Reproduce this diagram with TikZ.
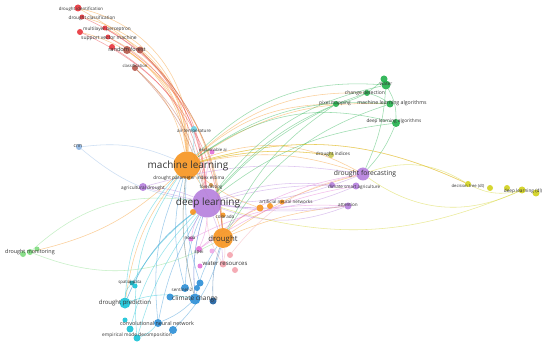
\documentclass[tikz,border=0pt]{standalone}
\usepackage{fontspec}
\setmainfont{Open Sans}
\usepackage{xcolor}
\usetikzlibrary{backgrounds}
\definecolor{redc}{HTML}{E8333A}
\definecolor{brownc}{HTML}{B5574B}
\definecolor{orangec}{HTML}{F7941E}
\definecolor{purplec}{HTML}{B57FDD}
\definecolor{greenc}{HTML}{22B14C}
\definecolor{yellowc}{HTML}{D2D21C}
\definecolor{cyanc}{HTML}{17C3D6}
\definecolor{bluec}{HTML}{2C8FD6}
\definecolor{dbluec}{HTML}{1C5E9E}
\definecolor{pinkc}{HTML}{E46FD6}
\definecolor{salmonc}{HTML}{F4A3AE}
\definecolor{aquac}{HTML}{6AD4E8}
\definecolor{lbluec}{HTML}{8EB6E4}
\definecolor{lgreenc}{HTML}{7EDC7E}
\definecolor{olivec}{HTML}{C8C850}

\begin{document}
\begin{tikzpicture}[x=1pt,y=-1pt,
  kw/.style={circle,fill=#1,fill opacity=0.9,draw=none,inner sep=0pt},
  lbl/.style={font=\fontsize{#1}{#1}\selectfont,text=black!80,inner sep=0pt},
  ln/.style={draw=#1,draw opacity=0.45,line width=0.55pt}]
  \useasboundingbox (0,0) rectangle (550,345);
  % red / brown cluster
  \node[kw=redc,minimum size=7] (did) at (78,8) {};
  \node[kw=redc,minimum size=5] (dcl) at (82,17) {};
  \node[kw=redc,minimum size=6] (r1) at (80,32) {};
  \node[kw=redc,minimum size=5] (mlp) at (105,28) {};
  \node[kw=redc,minimum size=5] (svm) at (108,37) {};
  \node[kw=redc,minimum size=6] (r2) at (112,47) {};
  \node[kw=brownc,minimum size=8] (rf) at (127,50) {};
  \node[kw=brownc,minimum size=7] (b1) at (140,50) {};
  \node[kw=brownc,minimum size=6] (cls) at (135,68) {};
  % orange / purple centre
  \node[kw=orangec,minimum size=27] (ml) at (187,165) {};
  \node[kw=purplec,minimum size=29] (dl) at (207,203) {};
  \node[kw=orangec,minimum size=20] (dr) at (223,238) {};
  \node[kw=purplec,minimum size=13] (df) at (363,174) {};
  \node[kw=aquac,minimum size=6] (at) at (194,129) {};
  \node[kw=pinkc,minimum size=5] (xai) at (212,152) {};
  \node[kw=orangec,minimum size=4] (dpi) at (189,178) {};
  \node[kw=orangec!60!gray,minimum size=4] (fc) at (211,185) {};
  \node[kw=purplec,minimum size=8] (ad) at (143,187) {};
  \node[kw=orangec,minimum size=6] (o1) at (193,212) {};
  \node[kw=orangec,minimum size=5] (col) at (223,215) {};
  \node[kw=orangec,minimum size=7] (ann) at (260,208) {};
  \node[kw=orangec,minimum size=6] (o2) at (270,206) {};
  \node[kw=orangec,minimum size=5] (o3) at (282,202) {};
  % pink
  \node[kw=pinkc,minimum size=5] (noda) at (191,239) {};
  \node[kw=pinkc,minimum size=6] (spei) at (199,249) {};
  \node[kw=pinkc!60,minimum size=5] (p1) at (212,251) {};
  \node[kw=pinkc,minimum size=5] (p2) at (200,266) {};
  \node[kw=salmonc,minimum size=7] (wres) at (223,264) {};
  \node[kw=salmonc,minimum size=6] (s1) at (230,255) {};
  \node[kw=salmonc,minimum size=6] (s2) at (235,270) {};
  % blue / cyan cluster
  \node[kw=cyanc,minimum size=11] (dp) at (125,303) {};
  \node[kw=cyanc!80!black,minimum size=5] (sd) at (132,283) {};
  \node[kw=cyanc,minimum size=5] (c2) at (135,286) {};
  \node[kw=bluec,minimum size=8] (s2n) at (185,288) {};
  \node[kw=bluec,minimum size=7] (b2) at (200,283) {};
  \node[kw=bluec,minimum size=6] (b3) at (197,288) {};
  \node[kw=bluec,minimum size=11] (cc) at (195,299) {};
  \node[kw=dbluec,minimum size=7] (db1) at (213,301) {};
  \node[kw=bluec,minimum size=7] (b4) at (170,297) {};
  \node[kw=bluec,minimum size=8] (cnnet) at (158,323) {};
  \node[kw=cyanc,minimum size=5] (c3) at (125,320) {};
  \node[kw=cyanc,minimum size=7] (c4) at (130,329) {};
  \node[kw=cyanc,minimum size=7] (emd) at (137,338) {};
  \node[kw=bluec,minimum size=8] (b5) at (173,330) {};
  % left
  \node[kw=lgreenc,minimum size=6] (dm) at (30,252) {};
  \node[kw=lgreenc,minimum size=6] (g1) at (23,254) {};
  \node[kw=lgreenc,minimum size=5] (g2) at (37,249) {};
  \node[kw=lbluec,minimum size=6] (cnn) at (79,147) {};
  % green cluster
  \node[kw=greenc,minimum size=7] (g3) at (384,79) {};
  \node[kw=greenc,minimum size=9] (wat) at (386,85) {};
  \node[kw=greenc,minimum size=6] (chd) at (367,93) {};
  \node[kw=greenc,minimum size=6] (pxm) at (336,104) {};
  \node[kw=greenc,minimum size=7] (mla) at (390,104) {};
  \node[kw=greenc,minimum size=8] (dla) at (396,123) {};
  \node[kw=olivec,minimum size=6] (din) at (331,155) {};
  \node[kw=purplec,minimum size=7] (csa) at (356,186) {};
  \node[kw=purplec,minimum size=6] (pu1) at (332,185) {};
  \node[kw=purplec,minimum size=7] (att) at (348,206) {};
  % yellow
  \node[kw=yellowc,minimum size=6] (dt) at (468,184) {};
  \node[kw=yellowc,minimum size=6] (y1) at (490,188) {};
  \node[kw=yellowc,minimum size=6] (y2) at (507,188) {};
  \node[kw=yellowc,minimum size=7] (dld) at (522,190) {};
  \node[kw=yellowc,minimum size=7] (y3) at (536,193) {};

  % labels
  \node[lbl=4.4] (did-t) at (81,9) {drought identification};
  \node[lbl=4.7] (dcl-t) at (92,18) {drought classification};
  \node[lbl=4.7] (mlp-t) at (107,29) {multilayer perceptron};
  \node[lbl=5] (svm-t) at (109,38) {support vector machine};
  \node[lbl=5.6] (rf-t) at (127,49) {random forest};
  \node[lbl=4.2] (cls-t) at (135,66) {classification};
  \node[lbl=4.6] (at-t) at (194,131) {air temperature};
  \node[lbl=4.3] (xai-t) at (213,150) {explainable ai};
  \node[lbl=10] (ml-t) at (188,166) {machine learning};
  \node[lbl=4.7] (dpi-t) at (189,178) {drought parameter index estima};
  \node[lbl=4.4] (fc-t) at (211,187) {forecasting};
  \node[lbl=4.7] (ad-t) at (143,188) {agricultural drought};
  \node[lbl=10] (dl-t) at (208,203) {deep learning};
  \node[lbl=4.6] (col-t) at (225,217) {colorado};
  \node[lbl=4.6] (ann-t) at (286,202) {artificial neural networks};
  \node[lbl=7.8] (dr-t) at (223,239) {drought};
  \node[lbl=4.5] (noda-t) at (190,238) {noda};
  \node[lbl=4.8] (spei-t) at (199,252) {spei};
  \node[lbl=6] (wres-t) at (225,264) {water resources};
  \node[lbl=5.4] (dm-t) at (30,252) {drought monitoring};
  \node[lbl=5] (cnn-t) at (78,146) {cnn};
  \node[lbl=4.3] (sd-t) at (130,282) {spatial data};
  \node[lbl=6] (dp-t) at (125,303) {drought prediction};
  \node[lbl=4.5] (s2n-t) at (182,290) {sentinel-2};
  \node[lbl=6.5] (cc-t) at (195,299) {climate change};
  \node[lbl=5.4] (cnnet-t) at (157,323) {convolutional neural network};
  \node[lbl=4.8] (emd-t) at (137,335) {empirical mode decomposition};
  \node[lbl=4.8] (wat-t) at (386,84) {water};
  \node[lbl=5] (chd-t) at (365,93) {change detection};
  \node[lbl=4.8] (pxm-t) at (335,103) {pixel mapping};
  \node[lbl=5.2] (mla-t) at (392,103) {machine learning algorithms};
  \node[lbl=4.7] (dla-t) at (394,121) {deep learning algorithms};
  \node[lbl=4.7] (din-t) at (333,154) {drought indices};
  \node[lbl=6.8] (df-t) at (365,174) {drought forecasting};
  \node[lbl=4.5] (csa-t) at (354,187) {climate smart agriculture};
  \node[lbl=4.6] (att-t) at (348,205) {attention};
  \node[lbl=4.2] (dt-t) at (468,186) {decision tree (dt)};
  \node[lbl=4.7] (dld-t) at (523,191) {deep learning (dl)};

  \begin{scope}[on background layer]
    \fill[white] (0,0) rectangle (550,345);
    \foreach \a/\b/\c/\t in {ml/did/orangec/-40, ml/dcl/orangec/-38, ml/r1/orangec/-35,
      ml/mlp/orangec/-32, ml/svm/orangec/-30, ml/rf/orangec/-25, ml/b1/orangec/-22,
      ml/cls/orangec/-18, dr/rf/orangec/-25, dr/did/orangec/-28, dl/dcl/redc/-30,
      dl/r2/redc/-25, dl/cls/brownc/-18, dl/mlp/redc/-28, r1/dr/redc/30, svm/dl/redc/28,
      b1/dr/brownc/20, cls/dl/brownc/15,
      ml/df/orangec/15, ml/df/orangec/25, ml/dt/orangec/20,
      ml/pxm/orangec/20, ml/chd/orangec/22, ml/mla/orangec/18, ml/din/orangec/10,
      ml/dm/orangec/15, ml/dr/orangec/10, ml/ann/orangec/-10, dr/ann/orangec/15,
      dr/df/orangec/10, dr/att/orangec/8, ml/cc/orangec/-10, ml/dp/orangec/-15,
      cnn/ml/lbluec/15, cnn/dl/lbluec/-15,
      dl/df/purplec/-10, dl/csa/purplec/8, dl/csa/purplec/-15, dl/pu1/purplec/12,
      dl/att/purplec/-8, dl/ad/purplec/-10, dl/cc/purplec/-10, dl/dp/purplec/-15,
      dl/wres/purplec/10, ad/df/purplec/12, ad/att/purplec/-10, dl/att/purplec/-20,
      wat/dl/greenc/-20, wat/ml/greenc/-25, chd/dl/greenc/-15, pxm/dl/greenc/-10,
      mla/ml/greenc/-20, dla/df/greenc/10, dla/dl/greenc/-15, mla/dr/greenc/-20,
      dla/ml/greenc/-25, pxm/dr/greenc/-15,
      wat/dla/greenc/15, chd/mla/greenc/10, wat/df/greenc/10, g3/pxm/greenc/15,
      dm/dl/lgreenc/25, dm/dr/lgreenc/-25,
      dt/df/yellowc/-25, dld/df/yellowc/30, dt/ml/yellowc/-20, dld/dl/yellowc/20,
      dt/dld/yellowc/-20, din/ml/yellowc/-10,
      cc/dl/bluec/10, cc/ml/bluec/10, s2n/dl/bluec/10, s2n/ml/bluec/15, b2/ml/bluec/10,
      cnnet/dl/bluec/10, cnnet/ml/bluec/15, dp/dl/cyanc/15, dp/ml/cyanc/20,
      emd/dl/cyanc/10, emd/ml/cyanc/20, c4/dl/cyanc/15,
      sd/dl/cyanc/10, sd/dp/cyanc/-20, cnnet/cc/bluec/-10, emd/cnnet/cyanc/-15,
      b5/dr/bluec/-15, db1/dr/dbluec/10, cc/dr/bluec/10, dp/cc/cyanc/15,
      spei/dl/pinkc/-10, noda/dl/pinkc/10, spei/df/pinkc/15, spei/csa/pinkc/12,
      xai/dl/pinkc/-10, noda/att/pinkc/15, wres/dr/salmonc/-10, wres/dl/salmonc/15,
      s1/df/salmonc/20, at/dl/aquac/-10, at/ml/aquac/10}
      \draw[ln=\c] (\a) to[bend left=\t] (\b);
  \end{scope}
\end{tikzpicture}
\end{document}
